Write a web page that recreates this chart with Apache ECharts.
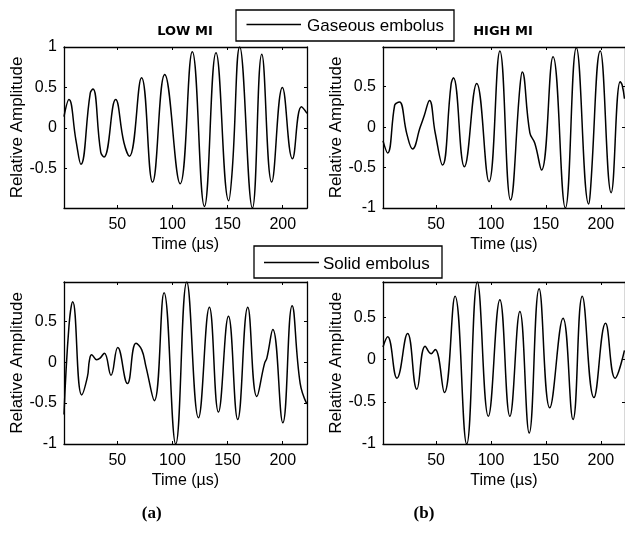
<!DOCTYPE html>
<html>
<head>
<meta charset="utf-8">
<script src="https://cdn.jsdelivr.net/npm/echarts@6/dist/echarts.min.js"></script>
<style>
  html, body { margin: 0; padding: 0; background: #fff; }
  #chart { width: 625px; height: 535px; }
</style>
</head>
<body>
<div id="chart"></div>
<script>
// Shared time axis (µs)
const timeRange = [1.7, 222];
const timeTicks = [50, 100, 150, 200];

// Gaseous embolus, low MI
const gasLowT = [1.7, 6.2, 12.5, 17, 25.5, 28, 35, 38, 48.5, 56, 61, 72, 82, 93, 107, 118, 129, 139.5, 151, 154.3, 161, 172.5, 181, 190, 199.7, 208.8, 217, 222];
const gasLowV = [0.14, 0.35, -0.15, -0.45, 0.43, 0.48, -0.3, -0.36, 0.35, -0.18, -0.35, 0.62, -0.67, 0.66, -0.69, 0.94, -0.97, 0.93, -0.9, -0.51, 1.0, -0.99, 0.91, -0.67, 0.5, -0.38, 0.26, 0.18];
const gasLowRange = [-0.99, 1];
const gasLowTicks = [-0.5, 0, 0.5, 1];

// Gaseous embolus, high MI
const gasHighT = [1.7, 5.9, 12.3, 14.4, 16.8, 23.5, 28.6, 35.6, 39.2, 44, 49.2, 55.8, 63.7, 65.8, 75.8, 87, 98.2, 108.1, 117.8, 126.3, 128.4, 135.4, 139.9, 146, 156.5, 167.7, 177.7, 188.9, 190.4, 199.5, 209.4, 217.6, 219.4, 221.5];
const gasHighV = [-0.17, -0.32, 0.27, 0.3, 0.31, -0.09, -0.27, 0, 0.14, 0.33, -0.07, -0.47, 0.53, 0.61, -0.49, 0.54, -0.675, 0.94, -0.9, 0.49, 0.68, -0.07, -0.2, -0.53, 0.87, -1.0, 0.98, -0.95, -0.81, 0.94, -0.81, 0.56, 0.52, 0.35];
const gasHighRange = [-1, 0.99];
const gasHighTicks = [-1, -0.5, 0, 0.5];

// Solid embolus, low MI
const solLowT = [1.7, 6.2, 9.6, 17.7, 22.9, 24.7, 26.8, 31.3, 34.4, 38.3, 44.3, 50.4, 59.2, 67, 72.2, 76.1, 83.6, 92.4, 103, 113, 123.6, 133.5, 141.7, 150.8, 159.2, 168.3, 176.5, 183.4, 185.6, 191, 200.1, 208.5, 215.8, 221.8];
const solLowV = [-0.64, 0.44, 0.74, -0.4, -0.18, 0.02, 0.09, 0.03, 0.05, 0.11, -0.16, 0.18, -0.26, 0.23, 0.15, -0.06, -0.47, 0.85, -1.0, 0.98, -0.68, 0.67, -0.61, 0.56, -0.7, 0.67, -0.42, -0.02, 0.05, 0.4, -0.74, 0.69, -0.26, -0.51];
const solLowRange = [-1, 0.98];
const solLowTicks = [-1, -0.5, 0, 0.5];

// Solid embolus, high MI
const solHighT = [1.7, 5.9, 14.4, 24.1, 32.5, 40.1, 45.5, 49.2, 57.6, 67.3, 77.9, 87.6, 97.6, 108.1, 117.2, 126.3, 134.8, 143.8, 153.5, 165.6, 174.7, 183.1, 193.7, 204.3, 213, 221.5];
const solHighV = [0.15, 0.27, -0.22, 0.31, -0.35, 0.16, 0.07, 0.12, -0.39, 0.75, -1.0, 0.92, -0.67, 0.71, -0.67, 0.57, -0.87, 0.84, -0.57, 0.49, -0.71, 0.75, -0.45, 0.43, -0.22, 0.11];
const solHighRange = [-1, 0.92];
const solHighTicks = [-1, -0.5, 0, 0.5];

const FONT = 'Liberation Sans';
const INK = '#000';

const panels = [
  { t: gasLowT,  v: gasLowV,  range: gasLowRange,  ticks: gasLowTicks,  box: { left: 64,  top: 47,  width: 243, height: 161 }, name: 'Gaseous embolus' },
  { t: gasHighT, v: gasHighV, range: gasHighRange, ticks: gasHighTicks, box: { left: 383, top: 47,  width: 243, height: 161 }, name: 'Gaseous embolus' },
  { t: solLowT,  v: solLowV,  range: solLowRange,  ticks: solLowTicks,  box: { left: 64,  top: 282, width: 243, height: 162 }, name: 'Solid embolus' },
  { t: solHighT, v: solHighV, range: solHighRange, ticks: solHighTicks, box: { left: 383, top: 282, width: 243, height: 162 }, name: 'Solid embolus' }
];

const axisLine = { show: true, onZero: false, lineStyle: { color: INK, width: 1.3 } };
const tickStyle = (values) => ({ show: true, inside: true, length: 3, customValues: values, lineStyle: { color: INK, width: 1 } });
const labelStyle = { color: INK, fontFamily: FONT, fontSize: 16 };

const grid = [], xAxis = [], yAxis = [], series = [];
panels.forEach((p, i) => {
  grid.push(Object.assign({ containLabel: false }, p.box));
  // bottom time axis with labels
  xAxis.push({
    type: 'value', gridIndex: i, position: 'bottom', min: timeRange[0], max: timeRange[1],
    axisLine, axisTick: tickStyle(timeTicks), splitLine: { show: false },
    axisLabel: Object.assign({ customValues: timeTicks, margin: 9 }, labelStyle),
    name: 'Time (µs)', nameLocation: 'middle', nameGap: 29,
    nameTextStyle: { color: INK, fontFamily: FONT, fontSize: 16 }
  });
  // left amplitude axis with labels
  yAxis.push({
    type: 'value', gridIndex: i, position: 'left', min: p.range[0], max: p.range[1],
    axisLine, axisTick: tickStyle(p.ticks), splitLine: { show: false },
    axisLabel: Object.assign({ customValues: p.ticks, margin: 7, formatter: (v) => String(v) }, labelStyle),
    name: 'Relative Amplitude', nameLocation: 'middle', nameGap: 38, nameRotate: 90,
    nameTextStyle: { color: INK, fontFamily: FONT, fontSize: 17 }
  });
  series.push({
    type: 'line', name: p.name, xAxisIndex: i, yAxisIndex: i,
    data: p.t.map((t, k) => [t, p.v[k]]),
    smooth: 0.45, showSymbol: false, symbol: 'none',
    lineStyle: { color: INK, width: 1.5 }, itemStyle: { color: INK },
    clip: true
  });
});
// mirrored box edges: top time axis and right amplitude axis, ticks only
panels.forEach((p, i) => {
  xAxis.push({
    type: 'value', gridIndex: i, position: 'top', min: timeRange[0], max: timeRange[1],
    axisLine, axisTick: tickStyle(timeTicks), axisLabel: { show: false }, splitLine: { show: false }
  });
  yAxis.push({
    type: 'value', gridIndex: i, position: 'right', min: p.range[0], max: p.range[1],
    axisLine, axisTick: tickStyle(p.ticks), axisLabel: { show: false }, splitLine: { show: false }
  });
});

function legendBox(x, y, w, h, lineX0, lineX1, lineY, textX, textY, text) {
  return [
    { type: 'rect', shape: { x, y, width: w, height: h }, style: { fill: '#fff', stroke: INK, lineWidth: 1.3 }, z: 10 },
    { type: 'line', shape: { x1: lineX0, y1: lineY, x2: lineX1, y2: lineY }, style: { stroke: INK, lineWidth: 1.3 }, z: 11 },
    { type: 'text', x: textX, y: textY, style: { text, fill: INK, font: '17px "Liberation Sans"', textVerticalAlign: 'middle', textAlign: 'left' }, z: 11 }
  ];
}

const graphic = [
  { type: 'text', x: 185, y: 31.5, style: { text: 'LOW MI', fill: INK, font: 'bold 13px "DejaVu Sans"', textAlign: 'center', textVerticalAlign: 'middle' } },
  { type: 'text', x: 503, y: 31.5, style: { text: 'HIGH MI', fill: INK, font: 'bold 13px "DejaVu Sans"', textAlign: 'center', textVerticalAlign: 'middle' } },
  ...legendBox(236, 10, 218, 31, 246.5, 301, 24.5, 307, 26.5, 'Gaseous embolus'),
  ...legendBox(254, 246, 188, 32, 264, 319, 262.5, 323, 264.5, 'Solid embolus'),
  { type: 'text', x: 151.7, y: 513.3, style: { text: '(a)', fill: INK, font: 'bold 17px "Liberation Serif"', textAlign: 'center', textVerticalAlign: 'middle' } },
  { type: 'text', x: 424, y: 513.3, style: { text: '(b)', fill: INK, font: 'bold 17px "Liberation Serif"', textAlign: 'center', textVerticalAlign: 'middle' } }
];

const chart = echarts.init(document.getElementById('chart'), null, { renderer: 'canvas' });
chart.setOption({
  animation: false,
  backgroundColor: '#fff',
  grid, xAxis, yAxis, series, graphic
});
</script>
</body>
</html>
